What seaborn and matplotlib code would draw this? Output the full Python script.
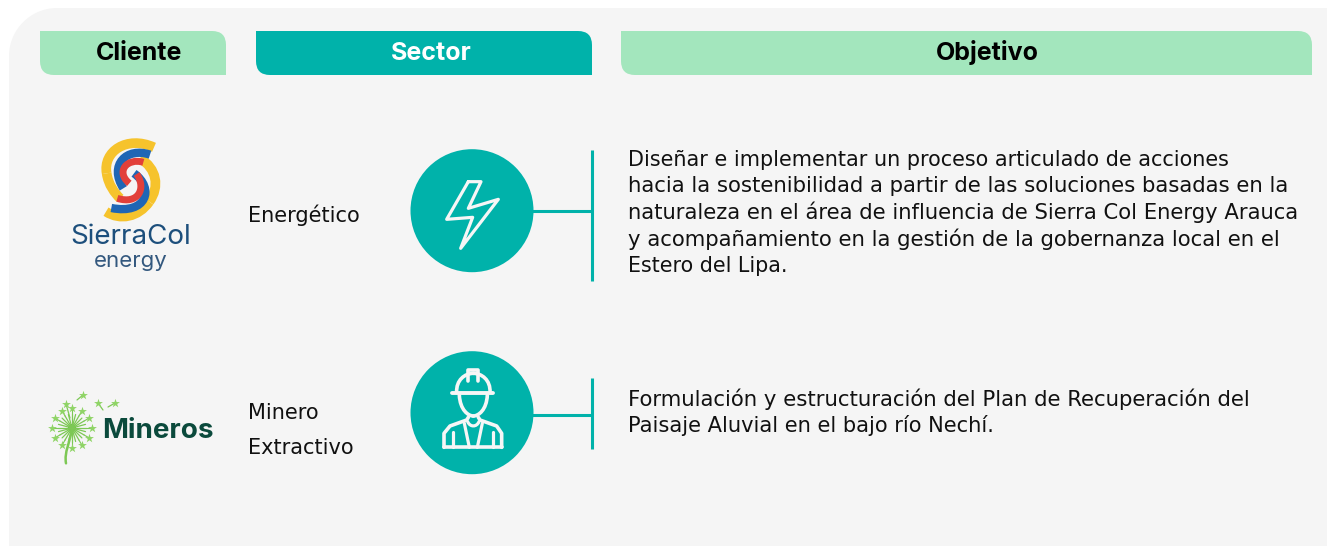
import numpy as np
import matplotlib.pyplot as plt
import seaborn as sns
from matplotlib.patches import Circle, PathPatch
from matplotlib.path import Path

headers = ["Cliente", "Sector", "Objetivo"]
sectors = [["Energético"], ["Minero", "Extractivo"]]
objetivo_1 = [
    "Diseñar e implementar un proceso articulado de acciones",
    "hacia la sostenibilidad a partir de las soluciones basadas en la",
    "naturaleza en el área de influencia de Sierra Col Energy Arauca",
    "y acompañamiento en la gestión de la gobernanza local en el",
    "Estero del Lipa.",
]
objetivo_2 = [
    "Formulación y estructuración del Plan de Recuperación del",
    "Paisaje Aluvial en el bajo río Nechí.",
]
clientes = ["SierraCol", "energy", "Mineros"]

TEAL = "#00B2AA"
MINT = "#A3E6BD"
PANEL = "#F5F5F5"
BODY = ["DejaVu Sans"]

sns.set_theme(style="white")
plt.rcParams["font.family"] = ["Inter", "DejaVu Sans"]

fig = plt.figure(figsize=(13.27, 5.46), dpi=100)
ax = fig.add_axes([0, 0, 1, 1])
ax.set_xlim(0, 1327)
ax.set_ylim(546, 0)
ax.axis("off")


def leaf(x0, y0, x1, y1, r, **kw):
    # solo esquinas sup. derecha e inf. izquierda redondeadas
    verts = [(x0, y0), (x1 - r, y0), (x1, y0), (x1, y0 + r), (x1, y1), (x0 + r, y1),
             (x0, y1), (x0, y1 - r), (x0, y0)]
    codes = [Path.MOVETO, Path.LINETO, Path.CURVE3, Path.CURVE3, Path.LINETO, Path.LINETO,
             Path.CURVE3, Path.CURVE3, Path.CLOSEPOLY]
    ax.add_patch(PathPatch(Path(verts, codes), lw=0, **kw))


def stroke(pts, color, lw, ox, oy, curve=True, cap="round"):
    # pts en coordenadas del recorte x3
    pts = [(ox + p[0] / 3, oy + p[1] / 3) for p in pts]
    if curve:
        codes = [Path.MOVETO] + [Path.CURVE4] * (len(pts) - 1)
    else:
        codes = [Path.MOVETO] + [Path.LINETO] * (len(pts) - 1)
    ax.add_patch(PathPatch(Path(pts, codes), fill=False, edgecolor=color, lw=lw,
                           capstyle=cap, joinstyle="round", zorder=4))


def fit_line(x, y, line, right):
    # cuerpo a medio camino entre el comun y el que cierra la linea en su sitio
    t = ax.text(x, y, line, va="baseline", fontsize=15, color="#111111", family=BODY)
    w = t.get_window_extent(fig.canvas.get_renderer()).width
    t.set_fontsize(0.5 * 15.2 + 0.5 * 15 * (right - x) / w)


# fondo
r = 48
verts = [(9, 546), (9, 8 + r), (9, 8 + r * 0.45), (9 + r * 0.45, 8), (9 + r, 8), (1327, 8), (1327, 546), (9, 546)]
codes = [Path.MOVETO, Path.LINETO, Path.CURVE4, Path.CURVE4, Path.CURVE4, Path.LINETO, Path.LINETO, Path.CLOSEPOLY]
ax.add_patch(PathPatch(Path(verts, codes), facecolor=PANEL, lw=0))

# encabezados
header_x = [(40, 226), (256, 592), (621, 1312)]
header_tx = [139, 431, 987]
header_c = [MINT, TEAL, MINT]
text_c = ["black", "white", "black"]
for name, (x0, x1), tx, c, tc in zip(headers, header_x, header_tx, header_c, text_c):
    leaf(x0, 31, x1, 75, 14, facecolor=c)
    ax.text(tx, 60, name, ha="center", va="baseline", fontsize=18,
            fontweight="bold", color=tc)

# sector
ax.text(248, 215, sectors[0][0], va="center", fontsize=15, color="#111111", family=BODY)
ax.text(248, 413, sectors[1][0], va="center", fontsize=15, color="#111111", family=BODY)
ax.text(248, 448, sectors[1][1], va="center", fontsize=15, color="#111111", family=BODY)

# circulos y conectores
for cy, ly, y0, y1 in [(210.7, 210.5, 150, 281), (412.7, 415, 378, 449)]:
    ax.add_patch(Circle((472, cy), 61.5, facecolor=TEAL, lw=0))
    ax.plot([530, 591], [ly, ly], color=TEAL, lw=2.2, solid_capstyle="butt")
    ax.plot([591.5, 591.5], [y0, y1], color=TEAL, lw=2.2, solid_capstyle="butt")

# rayo
stroke([(205, 125), (243, 125), (205, 205), (295, 178), (182, 325), (218, 232), (140, 238), (205, 125)],
       "#F6F6F6", 2.3, 400, 140, curve=False)

# trabajador
W = "#F6F6F6"
ox, oy = 400, 340
stroke([(170, 157), (168, 120), (195, 100), (220, 100)], W, 2.6, ox, oy)
stroke([(220, 100), (245, 100), (272, 120), (270, 157)], W, 2.6, ox, oy)
stroke([(203, 122), (203, 90), (235, 90), (235, 122)], W, 2.6, ox, oy, curve=False)
stroke([(155, 160), (280, 160)], W, 2.8, ox, oy, curve=False)
stroke([(178, 165), (180, 210), (205, 228), (220, 228)], W, 2.6, ox, oy)
stroke([(220, 228), (235, 228), (260, 210), (262, 165)], W, 2.6, ox, oy)
stroke([(132, 322), (132, 280), (150, 258), (200, 240), (205, 232)], W, 2.6, ox, oy, curve=False)
stroke([(305, 322), (305, 280), (290, 258), (240, 240), (235, 232)], W, 2.6, ox, oy, curve=False)
stroke([(132, 322), (305, 322)], W, 2.6, ox, oy, curve=False)
stroke([(160, 275), (160, 322)], W, 2.3, ox, oy, curve=False)
stroke([(280, 275), (280, 322)], W, 2.3, ox, oy, curve=False)
stroke([(193, 250), (208, 322)], W, 2.3, ox, oy, curve=False)
stroke([(247, 250), (232, 322)], W, 2.3, ox, oy, curve=False)
stroke([(203, 245), (210, 262), (230, 262), (237, 245)], W, 2.3, ox, oy)

# objetivos
rights_1 = [1221, 1300, 1301, 1292, 785]
rights_2 = [1256, 993]
for i, (line, right) in enumerate(zip(objetivo_1, rights_1)):
    fit_line(628, 165.5 + i * 26.7, line, right)
for i, (line, right) in enumerate(zip(objetivo_2, rights_2)):
    fit_line(628, 405.5 + i * 26.7, line, right)

# logo SierraCol
ox, oy = 40, 130
Y, B, R = "#F6C32C", "#1F66B5", "#E2403A"
stroke([(342, 52), (260, 15), (188, 65), (200, 130)], Y, 7, ox, oy, cap="butt")
stroke([(200, 130), (205, 165), (225, 190), (240, 205)], Y, 7, ox, oy, cap="butt")
stroke([(300, 85), (350, 115), (360, 170), (328, 215)], Y, 7, ox, oy, cap="butt")
stroke([(328, 215), (295, 262), (240, 272), (198, 245)], Y, 7, ox, oy, cap="butt")
stroke([(330, 74), (260, 50), (205, 105), (250, 175)], B, 6, ox, oy, cap="butt")
stroke([(282, 130), (345, 175), (320, 255), (214, 234)], B, 6, ox, oy, cap="butt")
stroke([(310, 97), (262, 82), (225, 125), (268, 160)], R, 5, ox, oy, cap="butt")
stroke([(290, 132), (320, 175), (295, 225), (232, 205)], R, 5, ox, oy, cap="butt")
ax.text(130.5, 237.5, clientes[0], ha="center", va="center", fontsize=20, color="#1D4F7C")
ax.text(130.5, 261, clientes[1], ha="center", va="center", fontsize=16, color="#33587E")

# logo Mineros
G = "#7DC855"
cx, cy = 72, 428
for a in np.deg2rad(np.arange(0, 360, 15)):
    ax.plot([cx, cx + 14 * np.cos(a)], [cy, cy + 14 * np.sin(a)], color=G, lw=0.9)
for a in np.deg2rad(np.arange(0, 360, 30)):
    ax.plot([cx + 14 * np.cos(a), cx + 20 * np.cos(a)], [cy + 14 * np.sin(a), cy + 20 * np.sin(a)],
            color=G, lw=0.8)
    ax.scatter(cx + 20 * np.cos(a), cy + 20 * np.sin(a), s=45, color="#8FD466", lw=0, zorder=3, marker="*")
ax.add_patch(Circle((cx, cy), 4, facecolor="#55B82E", lw=0))
stroke([(96, 145), (90, 190), (72, 215), (78, 250)], G, 1.8, 40, 380)
for x0, y0, x1, y1 in [(77, 400, 83, 395), (70, 418, 66, 404), (103, 410, 98, 403), (108, 407, 115, 403)]:
    ax.plot([x0, x1], [y0, y1], color=G, lw=0.9)
    ax.scatter(x1, y1, s=45, color="#8FD466", lw=0, zorder=3, marker="*")
ax.text(158, 431, clientes[2], ha="center", va="center", fontsize=20, fontweight="bold", color="#0B4A3C")

fig.savefig("out.png", dpi=100)
